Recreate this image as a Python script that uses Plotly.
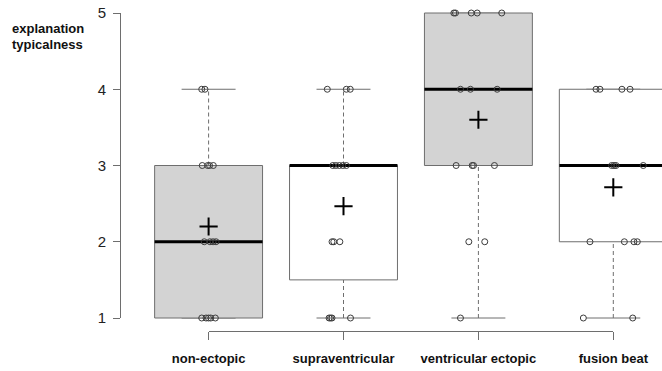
import math
import plotly.graph_objects as go

# ---- data -------------------------------------------------------------
categories = ["non-ectopic", "supraventricular", "ventricular ectopic", "fusion beat"]
y_ticks = [1, 2, 3, 4, 5]
y_title_lines = ["explanation", "typicalness"]

# individual ratings (1-5) per beat class
ratings_non_ectopic = [4, 4, 3, 3, 3, 3, 2, 2, 2, 2, 1, 1, 1, 1, 1]
ratings_supraventricular = [4, 4, 4, 3, 3, 3, 3, 3, 2, 2, 2, 1, 1, 1, 1]
ratings_ventricular = [5, 5, 5, 5, 5, 4, 4, 4, 3, 3, 3, 3, 2, 2, 1]
ratings_fusion = [4, 4, 4, 4, 3, 3, 3, 3, 2, 2, 2, 2, 1, 1]

# horizontal jitter of each plotted rating (category units)
jitter_non_ectopic = [-0.051, -0.027, -0.047, -0.007, 0.007, 0.035,
                      -0.032, 0.010, 0.033, 0.055,
                      -0.051, -0.019, -0.001, 0.016, 0.050]
jitter_supraventricular = [-0.120, 0.021, 0.050,
                           -0.079, -0.057, -0.031, -0.005, 0.021,
                           -0.085, -0.072, -0.027,
                           -0.107, -0.096, -0.085, 0.052]
jitter_ventricular = [-0.182, -0.170, -0.053, -0.009, 0.173,
                      -0.133, -0.059, 0.139,
                      -0.165, -0.046, -0.036, 0.119,
                      -0.071, 0.047,
                      -0.133]
jitter_fusion = [-0.128, -0.099, 0.064, 0.124,
                 -0.012, 0.005, 0.020, 0.222,
                 -0.173, 0.082, 0.153, 0.178,
                 -0.222, 0.144]

ratings = [ratings_non_ectopic, ratings_supraventricular, ratings_ventricular, ratings_fusion]
jitters = [jitter_non_ectopic, jitter_supraventricular, jitter_ventricular, jitter_fusion]

# ---- styling ----------------------------------------------------------
BOX_FILLS = ["#d3d3d3", "#ffffff", "#d3d3d3", "#ffffff"]
LINE_GREY = "#6e6e6e"
FONT = "Liberation Sans, Arial, Helvetica, sans-serif"
W, H = 662, 371
BOX_HALF = 0.4      # half box width (category units)
STAPLE_HALF = 0.2   # half whisker-cap width

# pixel geometry of the plotting region
PL, PR, PT, PB = 120, 662, 1, 331          # plot area edges
CAT1_PX, CAT4_PX = 208.6, 613.3            # centres of first / last category
Y1_PX, Y5_PX = 318, 13                     # pixel rows of ratings 1 and 5
TITLE_X_PX, TITLE_Y_PX, TITLE_LINE_PX = 47.5, 29, 16

px_per_cat = (CAT4_PX - CAT1_PX) / (len(categories) - 1)
px_per_unit = (Y1_PX - Y5_PX) / (y_ticks[-1] - y_ticks[0])
x_range = [1 + (PL - CAT1_PX) / px_per_cat, 1 + (PR - CAT1_PX) / px_per_cat]
y_range = [y_ticks[0] - (PB - Y1_PX) / px_per_unit, y_ticks[-1] + (Y5_PX - PT) / px_per_unit]
plot_w, plot_h = PR - PL, PB - PT


def fivenum(values):
    x = sorted(values)
    n = len(x)
    n4 = math.floor((n + 3) / 2) / 2
    idx = [1, n4, (n + 1) / 2, n + 1 - n4, n]
    return [0.5 * (x[math.floor(d) - 1] + x[math.ceil(d) - 1]) for d in idx]


fig = go.Figure()
shapes = []

for i, (vals, jit) in enumerate(zip(ratings, jitters)):
    xc = i + 1
    _, q1, med, q3, _ = fivenum(vals)
    iqr = q3 - q1
    lo = min(v for v in vals if v >= q1 - 1.5 * iqr)
    hi = max(v for v in vals if v <= q3 + 1.5 * iqr)

    # whiskers (dashed) and staples
    for a, b in ((q3, hi), (lo, q1)):
        if b > a:
            shapes.append(dict(type="line", xref="x", yref="y", x0=xc, x1=xc, y0=a, y1=b,
                               line=dict(color=LINE_GREY, width=1, dash="4px,3px"), layer="below"))
    for yv in (lo, hi):
        shapes.append(dict(type="line", xref="x", yref="y", x0=xc - STAPLE_HALF, x1=xc + STAPLE_HALF,
                           y0=yv, y1=yv, line=dict(color=LINE_GREY, width=1), layer="below"))
    # box
    shapes.append(dict(type="rect", xref="x", yref="y", x0=xc - BOX_HALF, x1=xc + BOX_HALF,
                       y0=q1, y1=q3, fillcolor=BOX_FILLS[i],
                       line=dict(color=LINE_GREY, width=1), layer="below"))
    # median
    shapes.append(dict(type="line", xref="x", yref="y", x0=xc - BOX_HALF, x1=xc + BOX_HALF,
                       y0=med, y1=med, line=dict(color="#000000", width=3), layer="below"))

    # individual ratings
    fig.add_trace(go.Scatter(
        x=[xc + j for j in jit], y=vals, mode="markers",
        marker=dict(symbol="circle-open", size=6, color="#3c3c3c", line=dict(width=1)),
        showlegend=False, hoverinfo="skip"))
    # mean
    fig.add_trace(go.Scatter(
        x=[xc], y=[sum(vals) / len(vals)], mode="markers",
        marker=dict(symbol="cross-thin", size=13, color="#000000",
                    line=dict(width=2, color="#000000")),
        showlegend=False, hoverinfo="skip"))

# carrier trace for the R-style axes
fig.add_trace(go.Scatter(x=[1], y=[1], xaxis="x2", yaxis="y2", mode="markers",
                         marker=dict(opacity=0), showlegend=False, hoverinfo="skip"))

title_annotations = [dict(
    text="<b>%s</b>" % line,
    xref="paper", yref="paper",
    x=(TITLE_X_PX - PL) / plot_w, y=(PB - (TITLE_Y_PX + k * TITLE_LINE_PX)) / plot_h,
    xanchor="center", yanchor="middle", showarrow=False,
    font=dict(size=13, color="#111111", family=FONT)) for k, line in enumerate(y_title_lines)]

fig.update_layout(
    width=W, height=H,
    margin=dict(l=PL, r=W - PR, t=PT, b=H - PB, pad=0),
    paper_bgcolor="white", plot_bgcolor="rgba(0,0,0,0)",
    font=dict(family=FONT, color="#111111"),
    shapes=shapes,
    xaxis=dict(range=x_range, visible=False, fixedrange=True),
    yaxis=dict(range=y_range, visible=False, fixedrange=True),
    xaxis2=dict(
        domain=[(CAT1_PX - PL) / plot_w, (CAT4_PX - PL) / plot_w],
        range=[1, len(categories)], anchor="free", position=0,
        showline=True, linecolor=LINE_GREY, linewidth=1,
        ticks="outside", ticklen=8, tickcolor=LINE_GREY, tickwidth=1,
        tickvals=list(range(1, len(categories) + 1)),
        ticktext=["<b>%s</b>" % c for c in categories],
        tickfont=dict(size=13, color="#111111", family=FONT),
        ticklabelstandoff=7,
        showgrid=False, zeroline=False, automargin=False, fixedrange=True),
    yaxis2=dict(
        domain=[(PB - Y1_PX) / plot_h, (PB - Y5_PX) / plot_h],
        range=[y_ticks[0], y_ticks[-1]], anchor="free", position=0,
        showline=True, linecolor=LINE_GREY, linewidth=1,
        ticks="outside", ticklen=7, tickcolor=LINE_GREY, tickwidth=1,
        tickvals=y_ticks, ticktext=[str(v) for v in y_ticks],
        tickfont=dict(size=15, color="#222222", family=FONT),
        ticklabelstandoff=4,
        showgrid=False, zeroline=False, automargin=False, fixedrange=True),
    annotations=title_annotations,
)

fig.write_html("out.html")
